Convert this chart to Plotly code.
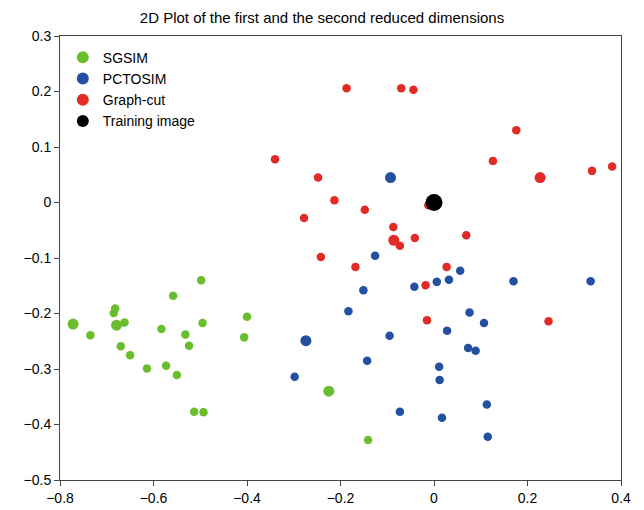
import plotly.graph_objects as go

sgsim_x = [-0.498, -0.558, -0.682, -0.685, -0.772, -0.679, -0.662, -0.495, -0.400, -0.735,
           -0.583, -0.532, -0.524, -0.406, -0.670, -0.650, -0.614, -0.573, -0.550, -0.513,
           -0.493, -0.225, -0.141]
sgsim_y = [-0.140, -0.168, -0.191, -0.199, -0.219, -0.221, -0.216, -0.217, -0.206, -0.239,
           -0.228, -0.238, -0.258, -0.243, -0.259, -0.275, -0.299, -0.294, -0.311, -0.377,
           -0.378, -0.340, -0.428]
sgsim_big = [0, 0, 0, 0, 1, 1, 0, 0, 0, 0, 0, 0, 0, 0, 0, 0, 0, 0, 0, 0, 0, 1, 0]

pct_x = [-0.093, -0.126, 0.056, 0.006, 0.032, -0.042, 0.170, 0.335, -0.151, -0.183,
         0.076, 0.107, 0.028, -0.095, -0.274, 0.073, 0.089, -0.143, -0.298, 0.011,
         0.012, 0.113, -0.073, 0.017, 0.115]
pct_y = [0.045, -0.096, -0.123, -0.143, -0.139, -0.152, -0.142, -0.142, -0.158, -0.196,
         -0.198, -0.217, -0.231, -0.240, -0.249, -0.262, -0.267, -0.285, -0.314, -0.296,
         -0.320, -0.364, -0.377, -0.388, -0.422]
pct_big = [1, 0, 0, 0, 0, 0, 0, 0, 0, 0, 0, 0, 0, 0, 1, 0, 0, 0, 0, 0, 0, 0, 0, 0, 0]

gc_x = [-0.187, -0.070, -0.044, 0.176, -0.340, 0.126, 0.338, 0.381, 0.227, -0.248,
        -0.213, -0.148, -0.278, -0.012, -0.087, -0.086, -0.073, -0.041, 0.069, -0.242,
        -0.168, 0.027, -0.018, -0.015, 0.245]
gc_y = [0.206, 0.206, 0.203, 0.130, 0.078, 0.075, 0.057, 0.065, 0.045, 0.045,
        0.004, -0.013, -0.028, -0.005, -0.044, -0.068, -0.078, -0.064, -0.059, -0.098,
        -0.116, -0.116, -0.149, -0.212, -0.214]
gc_big = [0, 0, 0, 0, 0, 0, 0, 0, 1, 0, 0, 0, 0, 0, 0, 1, 0, 0, 0, 0, 0, 0, 0, 0, 0]

ti_x = [0.0]
ti_y = [0.0]

def sizes(flags):
    return [11 if f else 8.5 for f in flags]

fig = go.Figure()
fig.add_trace(go.Scatter(x=sgsim_x, y=sgsim_y, mode="markers", name="SGSIM",
                         marker=dict(color="#6abd2d", size=sizes(sgsim_big), opacity=1, line=dict(width=0))))
fig.add_trace(go.Scatter(x=pct_x, y=pct_y, mode="markers", name="PCTOSIM",
                         marker=dict(color="#2450a2", size=sizes(pct_big), opacity=1, line=dict(width=0))))
fig.add_trace(go.Scatter(x=gc_x, y=gc_y, mode="markers", name="Graph-cut",
                         marker=dict(color="#e02b27", size=sizes(gc_big), opacity=1, line=dict(width=0))))
fig.add_trace(go.Scatter(x=ti_x, y=ti_y, mode="markers", name="Training image",
                         marker=dict(color="#000000", size=17, opacity=1, line=dict(width=0))))

axis_common = dict(showgrid=False, zeroline=False, showline=True, linecolor="#444444",
                   linewidth=1, mirror=True, ticks="outside", ticklen=5, tickcolor="#444444",
                   automargin=False,
                   tickfont=dict(family="Liberation Sans, Arial", size=14, color="#000000"))

fig.update_layout(
    width=644, height=510,
    margin=dict(l=60, r=23, t=36, b=30, autoexpand=False),
    paper_bgcolor="white", plot_bgcolor="white",
    title=dict(text="2D Plot of the first and the second reduced dimensions",
               x=0.5, xanchor="center", y=0.965, yanchor="middle",
               font=dict(family="Liberation Sans, Arial", size=15, color="#000000")),
    xaxis=dict(range=[-0.8, 0.4], tickvals=[-0.8, -0.6, -0.4, -0.2, 0, 0.2, 0.4], **axis_common),
    yaxis=dict(range=[-0.5, 0.3], tickvals=[-0.5, -0.4, -0.3, -0.2, -0.1, 0, 0.1, 0.2, 0.3], **axis_common),
    legend=dict(x=0.005, y=0.987, xanchor="left", yanchor="top", bgcolor="rgba(0,0,0,0)",
                font=dict(family="Liberation Sans, Arial", size=14, color="#000000"),
                itemsizing="constant", tracegroupgap=0, itemwidth=30),
    showlegend=True,
)

fig.write_html("out.html")
